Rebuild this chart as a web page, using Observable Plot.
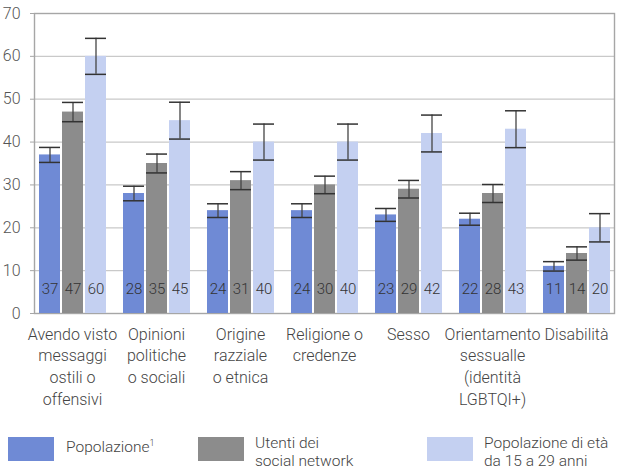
<!DOCTYPE html>
<html>
<head>
<meta charset="utf-8">
<script src="https://cdn.jsdelivr.net/npm/d3@7"></script>
<script src="https://cdn.jsdelivr.net/npm/@observablehq/plot@0.6"></script>
<style>
  body { margin: 0; background: #fff; font-family: Roboto, sans-serif; font-weight: 300; color: #444; }
  #wrap { position: relative; width: 631px; height: 472px; overflow: hidden; }
  #wrap svg { position: absolute; left: 0; top: 0; background: transparent; }
  .sw { position: absolute; width: 46px; height: 24px; }
  .lt { position: absolute; font-size: 15.5px; line-height: 18px; color: #444; white-space: nowrap; }
</style>
</head>
<body>
<div id="wrap"></div>
<script>
const categories = ["Avendo visto messaggi ostili o offensivi", "Opinioni politiche o sociali", "Origine razziale o etnica", "Religione o credenze", "Sesso", "Orientamento sessualle (identità LGBTQI+)", "Disabilità"];
const categoryLabels = ["Avendo visto\nmessaggi\nostili o\noffensivi", "Opinioni\npolitiche\no sociali", "Origine\nrazziale\no etnica", "Religione o\ncredenze", "Sesso", "Orientamento\nsessualle\n(identità\nLGBTQI+)", "Disabilità"];
const series = ["Popolazione", "Utenti dei social network", "Popolazione di età da 15 a 29 anni"];
const seriesLegend = ["Popolazione<sup style='font-size:9px'>1</sup>", "Utenti dei<br>social network", "Popolazione di età<br>da 15 a 29 anni"];
const popolazione = [37, 28, 24, 24, 23, 22, 11];
const utenti = [47, 35, 31, 30, 29, 28, 14];
const giovani = [60, 45, 40, 40, 42, 43, 20];
const errPopolazione = [1.75, 1.7, 1.6, 1.6, 1.5, 1.4, 1.1];
const errUtenti = [2.25, 2.2, 2.1, 2.05, 2.05, 2.1, 1.55];
const errGiovani = [4.2, 4.3, 4.2, 4.2, 4.3, 4.3, 3.3];
const yTicks = [0, 10, 20, 30, 40, 50, 60, 70];
const colors = ["#6f8ad5", "#8c8c8c", "#c4d0f1"];

const values = [popolazione, utenti, giovani];
const errors = [errPopolazione, errUtenti, errGiovani];
const rows = [];
categories.forEach((c, i) => series.forEach((s, j) => {
  rows.push({category: c, series: s, value: values[j][i], lo: values[j][i] - errors[j][i], hi: values[j][i] + errors[j][i]});
}));

const W = 631, H = 420;
const margins = {marginLeft: 34, marginRight: 17, marginTop: 13, marginBottom: 107};
const yScale = {domain: [0, 70]};

const back = Plot.plot({
  width: W, height: H, ...margins,
  style: {fontFamily: "Roboto, sans-serif", fontWeight: 300, fontSize: "16px", color: "#555", background: "transparent"},
  y: {...yScale, axis: null},
  marks: [
    Plot.gridY(yTicks.slice(1, -1), {stroke: "#c9c9c9", strokeOpacity: 1, strokeWidth: 1.2}),
    Plot.frame({stroke: "#a6a6a6", strokeWidth: 1.4}),
    Plot.axisY(yTicks, {tickSize: 4, tickPadding: 10, stroke: "#a6a6a6", fill: "#555", fontSize: 16})
  ]
});

const front = Plot.plot({
  width: W, height: H, ...margins,
  style: {fontFamily: "Roboto, sans-serif", fontWeight: 300, fontSize: "15px", color: "#333", background: "transparent"},
  fx: {domain: categories, paddingInner: 0.19, paddingOuter: 0.04, axis: null, label: null},
  x: {domain: series, paddingInner: 0.1, paddingOuter: 0, axis: null},
  y: {...yScale, axis: null},
  color: {domain: series, range: colors},
  marks: [
    Plot.barY(rows, {fx: "category", x: "series", y: "value", fill: "series"}),
    Plot.ruleX(rows, {fx: "category", x: "series", y1: "lo", y2: "hi", stroke: "#444", strokeWidth: 1.3}),
    Plot.tickY(rows, {fx: "category", x: "series", y: "lo", stroke: "#333", strokeWidth: 1.5}),
    Plot.tickY(rows, {fx: "category", x: "series", y: "hi", stroke: "#333", strokeWidth: 1.5}),
    Plot.text(rows, {fx: "category", x: "series", frameAnchor: "bottom", dy: -19.5, text: "value", fill: "#333", fontSize: 15}),
    Plot.text(categories, {fx: d => d, text: (d, i) => categoryLabels[i], frameAnchor: "bottom", lineAnchor: "top", dy: 11, lineHeight: 1.35, fontSize: 16, fill: "#444"})
  ]
});

const wrap = document.getElementById("wrap");
wrap.appendChild(back);
wrap.appendChild(front);

const swX = [8, 198, 427];
const txX = [66, 255, 484];
series.forEach((s, j) => {
  const sw = document.createElement("div");
  sw.className = "sw";
  sw.style.left = swX[j] + "px";
  sw.style.top = "437px";
  sw.style.background = colors[j];
  wrap.appendChild(sw);
  const t = document.createElement("div");
  t.className = "lt";
  t.style.left = txX[j] + "px";
  t.style.top = "434px";
  t.innerHTML = seriesLegend[j];
  wrap.appendChild(t);
});
</script>
</body>
</html>
